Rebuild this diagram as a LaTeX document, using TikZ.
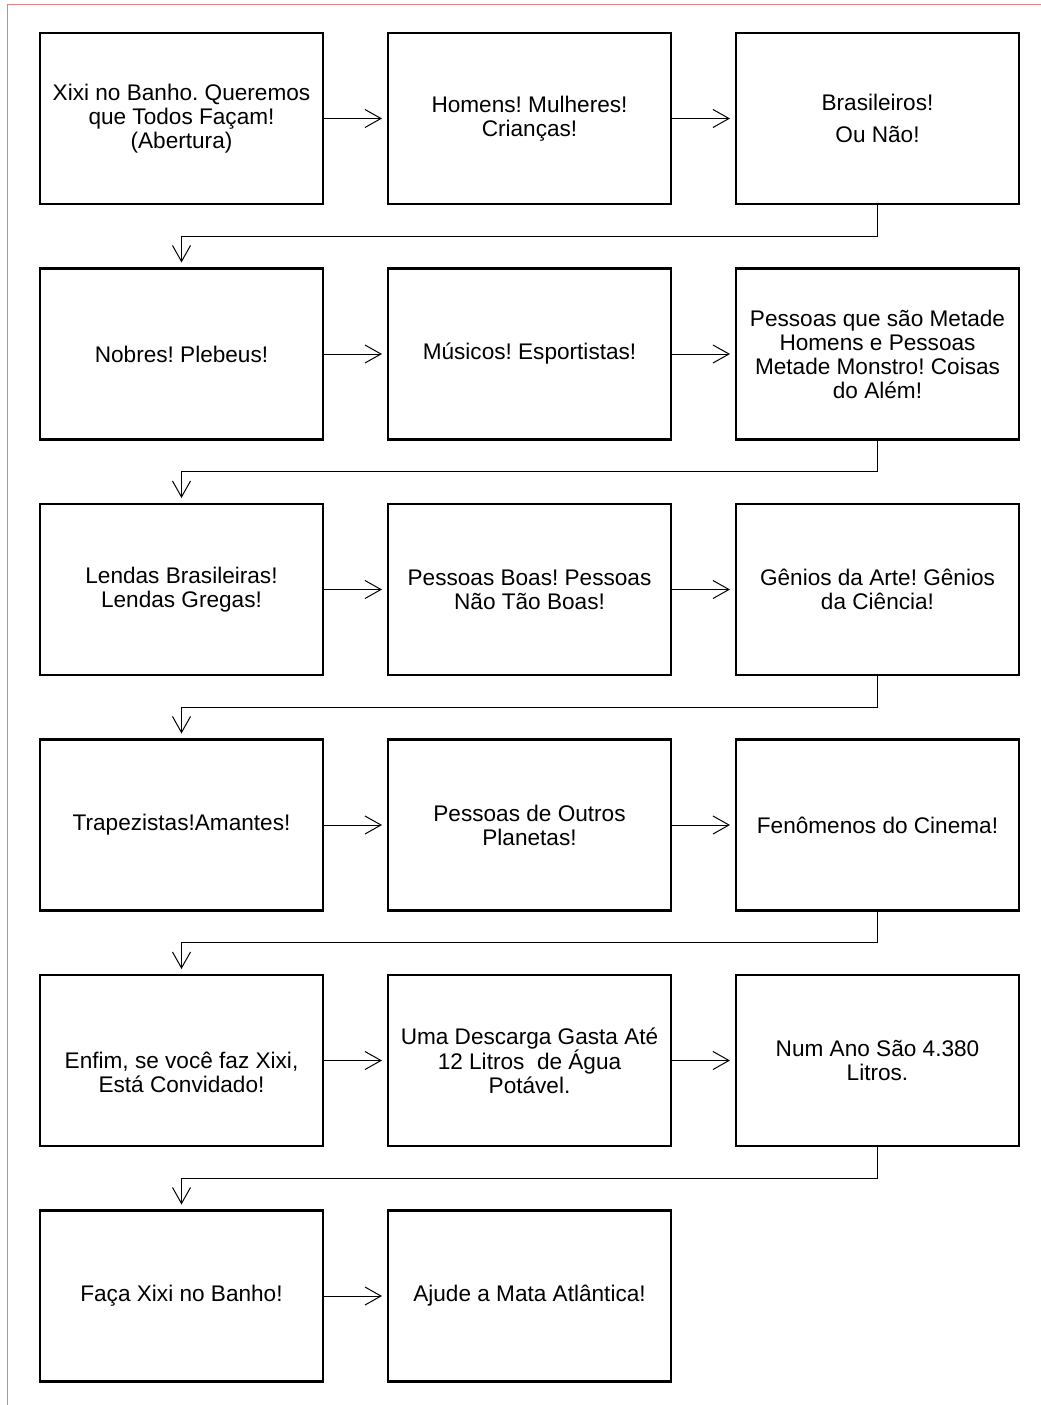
\documentclass[tikz,border=0pt]{standalone}
\usepackage{fontspec}
\setmainfont{Liberation Sans}
\usetikzlibrary{positioning,arrows.meta}
\definecolor{pageline}{RGB}{224,128,128}
\frenchspacing

\begin{document}
\begin{tikzpicture}[x=1pt,y=-1pt,
    slide/.style={draw, line width=2.5pt, outer sep=0pt, inner sep=0pt,
        minimum width=283pt, minimum height=171pt, align=center,
        font=\fontsize{22.6}{24}\selectfont},
    flow/.style={line width=1pt, -{Straight Barb[length=16pt,width=18pt]}, shorten >=6pt},
    node distance=64.5pt and 65pt]
\useasboundingbox (0,0) rectangle (1041,1405);
\draw[pageline, line width=1pt] (7,1405) -- (7,5) -- (1041,5);

% row 1
\node[slide] (s11) at (181.5,118.5) {Xixi no Banho. Queremos\\que Todos Façam!\\(Abertura)};
\node[slide, right=of s11] (s12) {Homens! Mulheres!\\Crianças!};
\node[slide, right=of s12] (s13) {Brasileiros!\\[8pt]Ou Não!};
% row 2
\node[slide, below=of s11] (s21) {Nobres! Plebeus!};
\node[slide, right=of s21] (s22) {Músicos! Esportistas!};
\node[slide, right=of s22] (s23) {Pessoas que são Metade\\Homens e Pessoas\\Metade Monstro! Coisas\\do Além!};
% row 3
\node[slide, below=of s21] (s31) {Lendas Brasileiras!\\Lendas Gregas!};
\node[slide, right=of s31] (s32) {Pessoas Boas! Pessoas\\Não Tão Boas!};
\node[slide, right=of s32] (s33) {Gênios da Arte! Gênios\\da Ciência!};
% row 4
\node[slide, below=of s31] (s41) {Trapezistas!Amantes!};
\node[slide, right=of s41] (s42) {Pessoas de Outros\\Planetas!};
\node[slide, right=of s42] (s43) {Fenômenos do Cinema!};
% row 5
\node[slide, below=of s41] (s51) {~\\[16pt]Enfim, se você faz Xixi,\\Está Convidado!};
\node[slide, right=of s51] (s52) {Uma Descarga Gasta Até\\12 Litros~ de Água\\Potável.};
\node[slide, right=of s52] (s53) {Num Ano São 4.380\\Litros.};
% row 6
\node[slide, below=of s51] (s61) {Faça Xixi no Banho!};
\node[slide, right=of s61] (s62) {Ajude a Mata Atlântica!};

% arrows along the rows
\draw[flow] (s11) -- (s12);
\draw[flow] (s12) -- (s13);
\draw[flow] (s21) -- (s22);
\draw[flow] (s22) -- (s23);
\draw[flow] (s31) -- (s32);
\draw[flow] (s32) -- (s33);
\draw[flow] (s41) -- (s42);
\draw[flow] (s42) -- (s43);
\draw[flow] (s51) -- (s52);
\draw[flow] (s52) -- (s53);
\draw[flow] (s61) -- (s62);

% arrows back to the next row
\draw[flow] (s13.south) -- ++(0,32) -| (s21.north);
\draw[flow] (s23.south) -- ++(0,32) -| (s31.north);
\draw[flow] (s33.south) -- ++(0,32) -| (s41.north);
\draw[flow] (s43.south) -- ++(0,32) -| (s51.north);
\draw[flow] (s53.south) -- ++(0,32) -| (s61.north);
\end{tikzpicture}
\end{document}
